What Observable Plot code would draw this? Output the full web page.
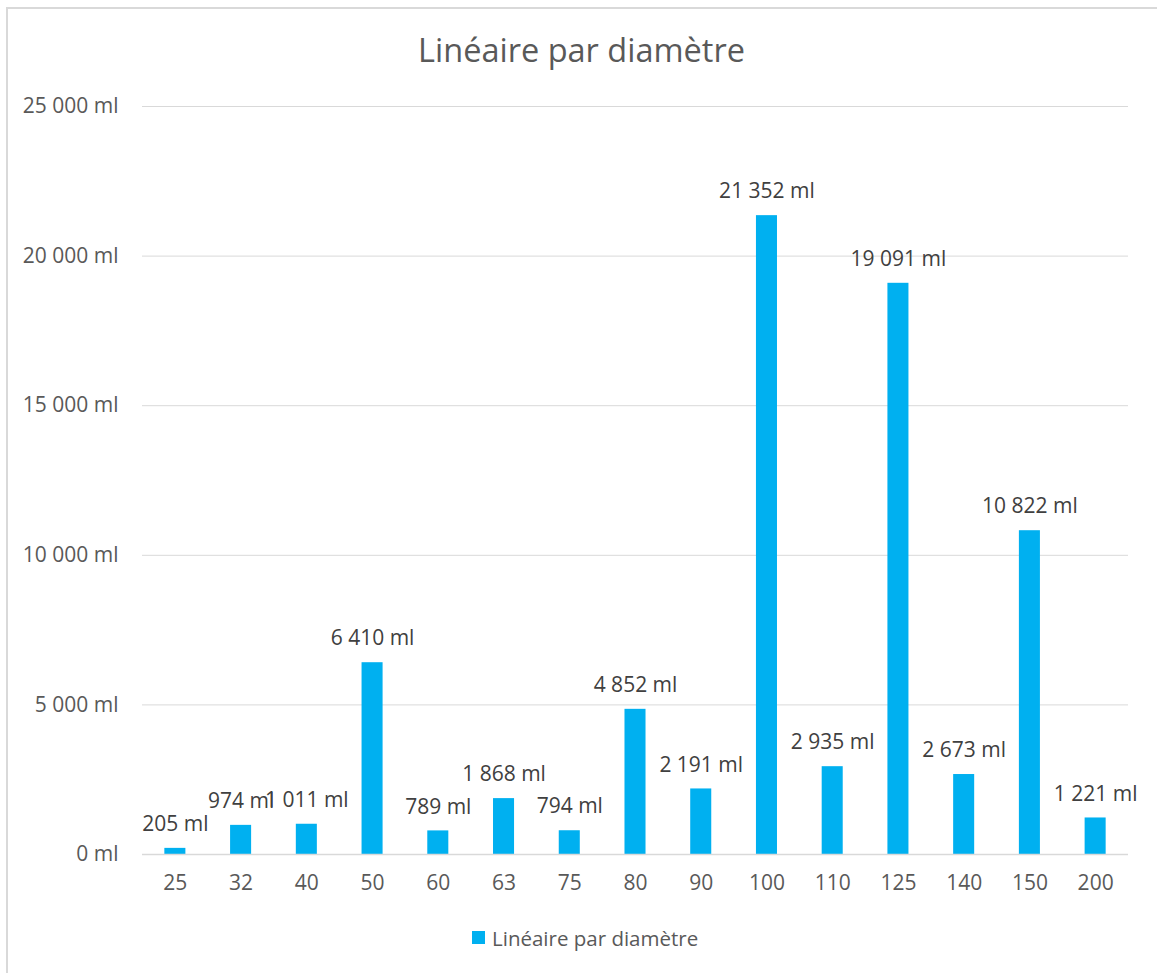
<!DOCTYPE html>
<html>
<head>
<meta charset="utf-8">
<script src="https://cdn.jsdelivr.net/npm/d3@7"></script>
<script src="https://cdn.jsdelivr.net/npm/@observablehq/plot@0.6"></script>
<style>
  html, body { margin: 0; padding: 0; background: #fff; overflow: hidden; }
  #frame {
    position: absolute; left: 6px; top: 7px; width: 1200px; height: 1000px;
    border-left: 2px solid #d9d9d9; border-top: 2px solid #d9d9d9; box-sizing: border-box;
  }
  #wrap { position: absolute; left: 0; top: 0; width: 1157px; font-family: "Open Sans", sans-serif; color: #595959; }
  #title { position: relative; height: 80px; font-size: 32.5px; color: #595959; }
  #title span { position: absolute; left: 0; right: 0; top: 28px; text-align: center; line-height: 44px; padding-left: 6px; }
  #legend { position: relative; height: 60px; font-size: 20.5px; color: #595959; }
  #legend .sw { position: absolute; left: 472px; top: 27px; width: 13px; height: 13px; background: #00B0F0; }
  #legend .lb { position: absolute; left: 492px; top: 20px; }
</style>
</head>
<body>
<div id="frame"></div>
<div id="wrap">
  <div id="title"><span>Linéaire par diamètre</span></div>
  <div id="chart"></div>
  <div id="legend"><div class="sw"></div><div class="lb">Linéaire par diamètre</div></div>
</div>
<script>
const categories = ["25","32","40","50","60","63","75","80","90","100","110","125","140","150","200"];
const values = [205, 974, 1011, 6410, 789, 1868, 794, 4852, 2191, 21352, 2935, 19091, 2673, 10822, 1221];
const yTicks = [0, 5000, 10000, 15000, 20000, 25000];
const seriesName = "Linéaire par diamètre";

const data = categories.map((c, i) => ({diam: c, val: values[i]}));
const fr = d3.formatLocale({decimal: ",", thousands: " ", grouping: [3], currency: ["", ""]});
const fmt = v => fr.format(",")(v) + " ml";

const plot = Plot.plot({
  width: 1157,
  height: 824,
  marginLeft: 142,
  marginRight: 29,
  marginTop: 26,
  marginBottom: 50,
  style: {fontFamily: "'Open Sans', sans-serif", fontSize: "21px", color: "#595959", background: "transparent"},
  x: {domain: categories, paddingInner: 0.68, paddingOuter: 0.34, round: false, label: null, tickSize: 0, tickPadding: 22},
  y: {domain: [0, 25000], ticks: yTicks, tickFormat: fmt, label: null, tickSize: 0, tickPadding: 24},
  marks: [
    Plot.gridY(yTicks.filter(t => t > 0), {stroke: "#d9d9d9", strokeOpacity: 1, strokeWidth: 1}),
    Plot.barY(data, {x: "diam", y: "val", fill: "#00B0F0"}),
    Plot.ruleY([0], {stroke: "#d9d9d9", strokeWidth: 1.5}),
    Plot.text(data, {x: "diam", y: "val", text: d => fmt(d.val), dy: -24, fill: "#404040", fontSize: 21, textAnchor: "middle"}),
    Plot.axisX({tickSize: 0, tickPadding: 21, fontSize: 21, fill: "#595959"}),
    Plot.axisY({ticks: yTicks, tickFormat: fmt, tickSize: 0, tickPadding: 24, fontSize: 21, fill: "#595959"})
  ]
});
document.getElementById("chart").appendChild(plot);
</script>
</body>
</html>
